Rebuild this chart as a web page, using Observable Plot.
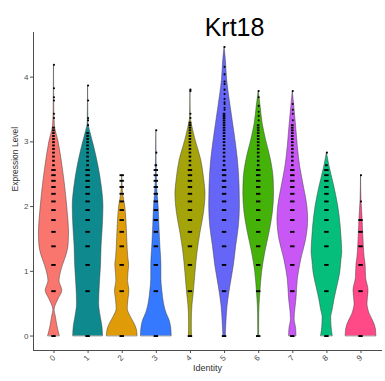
<!DOCTYPE html>
<html>
<head>
<meta charset="utf-8">
<script src="https://cdn.jsdelivr.net/npm/d3@7"></script>
<script src="https://cdn.jsdelivr.net/npm/@observablehq/plot@0.6"></script>
<style>
  html, body { margin: 0; padding: 0; background: #fff; }
  #chart svg { display: block; }
</style>
</head>
<body>
<div id="chart"></div>
<script>
// Krt18 expression per cluster (identity), Seurat-style violin plot.
const geneName = "Krt18";
const clusters = ["0", "1", "2", "3", "4", "5", "6", "7", "8", "9"];
const clusterColors = ["#F8766D", "#0E8A8E", "#DF9C08", "#3479FF", "#A4A40A",
                       "#6565F8", "#45B20A", "#C857F6", "#05BE7C", "#FF4A87"];
const yTicks = [0, 1, 2, 3, 4];

// UMI counts observed per cell in each cluster (expression = log1p(count)).
const counts0 = [0,1,2,3,4,5,6,7,8,9,10,11,12,13,14,15,16,17,18,19,20,21,22,23,24,28,30,37,39,45,65];
const counts1 = [0,1,2,3,4,5,6,7,8,9,10,11,12,13,14,15,16,17,18,19,20,21,22,25,27,28,37,47];
const counts2 = [0,1,2,3,4,5,6,7,8,9,10,11];
const counts3 = [0,1,2,3,4,5,6,7,8,9,10,11,12,13,16,23];
const counts4 = [0,1,2,3,4,5,6,7,8,9,10,11,12,13,14,15,16,17,18,19,20,21,22,23,24,25,26,28,30,43,44];
const counts5 = [0,1,2,3,4,5,6,7,8,9,10,11,12,13,14,15,16,17,18,19,20,21,22,23,24,25,26,27,28,29,30,32,33,35,36,38,41,44,48,50,56,63,86];
const counts6 = [0,1,2,3,4,5,6,7,8,9,10,11,12,13,14,15,16,17,18,19,20,21,22,23,24,25,27,29,31,34,39,43];
const counts7 = [0,1,2,3,4,5,6,7,8,9,10,11,12,13,14,15,16,17,18,19,20,21,22,23,24,25,27,30,32,35,43];
const counts8 = [0,1,2,3,4,5,6,7,8,9,10,11,12,13,16];
const counts9 = [0,1,2,3,4,5,7,11];

// Violin outlines: [expression level, relative half-width] (1 = widest violin).
const violin0 = [[0,0.38],[0.16,0.22],[0.3,0.12],[0.4,0.04],[0.45,0.08],[0.57,0.3],[0.7,0.54],[0.85,0.36],[0.95,0.42],[1.1,0.6],[1.25,0.82],[1.4,0.95],[1.6,0.98],[1.9,0.9],[2.2,0.78],[2.6,0.57],[3.0,0.3],[3.25,0.06],[3.5,0.02],[4.19,0]];
const violin1 = [[0,0.97],[0.15,0.93],[0.3,0.82],[0.5,0.72],[0.77,0.76],[1.08,0.84],[1.39,0.88],[1.7,0.96],[2.0,1.0],[2.31,0.89],[2.62,0.68],[2.92,0.4],[3.13,0.17],[3.3,0.02],[3.87,0]];
const violin2 = [[0,1.0],[0.1,0.95],[0.2,0.78],[0.3,0.55],[0.42,0.36],[0.55,0.4],[0.7,0.47],[0.85,0.38],[0.95,0.4],[1.1,0.45],[1.2,0.4],[1.5,0.33],[1.8,0.27],[2.0,0.2],[2.2,0.06],[2.49,0]];
const violin3 = [[0,1.0],[0.1,0.98],[0.23,0.88],[0.36,0.65],[0.5,0.5],[0.7,0.39],[0.88,0.33],[1.1,0.33],[1.4,0.26],[1.7,0.2],[2.0,0.15],[2.2,0.08],[2.5,0.03],[3.18,0]];
const violin4 = [[0,0.1],[0.21,0.09],[0.47,0.13],[0.67,0.22],[0.98,0.33],[1.29,0.46],[1.59,0.65],[1.9,0.88],[2.2,0.98],[2.41,0.9],[2.72,0.7],[3.03,0.33],[3.23,0.13],[3.38,0.02],[3.8,0]];
const violin5 = [[0,0.08],[0.21,0.12],[0.47,0.2],[0.77,0.38],[1.08,0.6],[1.39,0.76],[1.69,0.93],[2.0,1.0],[2.31,0.98],[2.72,0.87],[3.13,0.65],[3.54,0.4],[3.95,0.17],[4.25,0.09],[4.47,0]];
const violin6 = [[0,0.03],[0.36,0.04],[0.57,0.08],[0.67,0.11],[0.98,0.22],[1.29,0.43],[1.59,0.7],[1.9,0.92],[2.2,1.0],[2.41,0.98],[2.72,0.8],[3.03,0.48],[3.28,0.26],[3.54,0.13],[3.78,0]];
const violin7 = [[0,0.24],[0.11,0.22],[0.26,0.12],[0.4,0.16],[0.57,0.24],[0.88,0.33],[1.18,0.55],[1.49,0.87],[1.8,1.0],[2.0,0.95],[2.31,0.72],[2.62,0.48],[2.92,0.33],[3.23,0.22],[3.54,0.1],[3.78,0]];
const violin8 = [[0,0.38],[0.15,0.3],[0.28,0.28],[0.41,0.38],[0.57,0.5],[0.7,0.62],[0.98,0.87],[1.18,0.95],[1.29,1.0],[1.49,0.96],[1.69,0.9],[2.0,0.74],[2.31,0.48],[2.62,0.17],[2.83,0]];
const violin9 = [[0,1.0],[0.1,0.97],[0.2,0.85],[0.35,0.55],[0.5,0.42],[0.7,0.49],[0.9,0.33],[1.1,0.3],[1.2,0.24],[1.4,0.18],[1.7,0.12],[1.9,0.08],[2.1,0.03],[2.49,0]];

const countLists = [counts0, counts1, counts2, counts3, counts4, counts5, counts6, counts7, counts8, counts9];
const violins = [violin0, violin1, violin2, violin3, violin4, violin5, violin6, violin7, violin8, violin9];

const maxHalf = 0.45; // widest violin spans 90% of a category slot

const violinRows = violins.flatMap((profile, i) =>
  profile.map(([v, w]) => ({cluster: clusters[i], i, v, x1: i - w * maxHalf, x2: i + w * maxHalf}))
    .sort((a, b) => a.v - b.v)
);

// Cells at the low, fully populated counts stack into short dashes;
// the rare high counts appear as single dots.
const pointRows = countLists.flatMap((list, i) =>
  list.map((k, j) => ({i, k, v: Math.log1p(k), stacked: k === j}))
);
const dashHalf = d => (d.k <= 12 ? 0.065 : 0.038);

const yMax = d3.max(pointRows, d => d.v);
const pad = yMax * 0.05;

const chart = Plot.plot({
  width: 385,
  height: 381,
  marginTop: 32,
  marginBottom: 31,
  marginLeft: 33,
  marginRight: 4,
  style: {fontFamily: "'Liberation Sans', Arial, sans-serif", fontSize: "8px", color: "#4d4d4d", background: "#fff"},
  x: {
    type: "linear",
    domain: [-0.6, clusters.length - 0.4],
    ticks: clusters.map((c, i) => i),
    tickFormat: i => clusters[i],
    tickRotate: -45,
    tickSize: 3,
    tickPadding: 3,
    line: true,
    label: null
  },
  y: {
    domain: [-pad, yMax + pad],
    ticks: yTicks,
    tickFormat: d => String(d),
    tickSize: 3,
    tickPadding: 2,
    line: true,
    label: null
  },
  color: {type: "ordinal", domain: clusters, range: clusterColors},
  marks: [
    Plot.areaX(violinRows, {
      y: "v", x1: "x1", x2: "x2", z: "cluster", fill: "cluster",
      stroke: "#3a3a3a", strokeWidth: 0.6, strokeOpacity: 0.8, curve: "monotone-y"
    }),
    Plot.ruleY(pointRows.filter(d => d.stacked), {
      y: "v",
      x1: d => d.i - dashHalf(d),
      x2: d => d.i + dashHalf(d),
      stroke: "#000", strokeWidth: 1.9
    }),
    Plot.dot(pointRows.filter(d => !d.stacked), {x: "i", y: "v", r: 1.05, fill: "#000", stroke: "none"}),
    Plot.text([geneName], {text: d => d, frameAnchor: "top", dx: 27, dy: -14, fontSize: 25, fill: "#000"}),
    Plot.text(["Expression Level"], {text: d => d, frameAnchor: "left", rotate: -90, dx: -18, fontSize: 8.5, fill: "#333"}),
    Plot.text(["Identity"], {text: d => d, frameAnchor: "bottom", dy: 20, fontSize: 9, fill: "#333"})
  ]
});

document.getElementById("chart").appendChild(chart);
</script>
</body>
</html>
